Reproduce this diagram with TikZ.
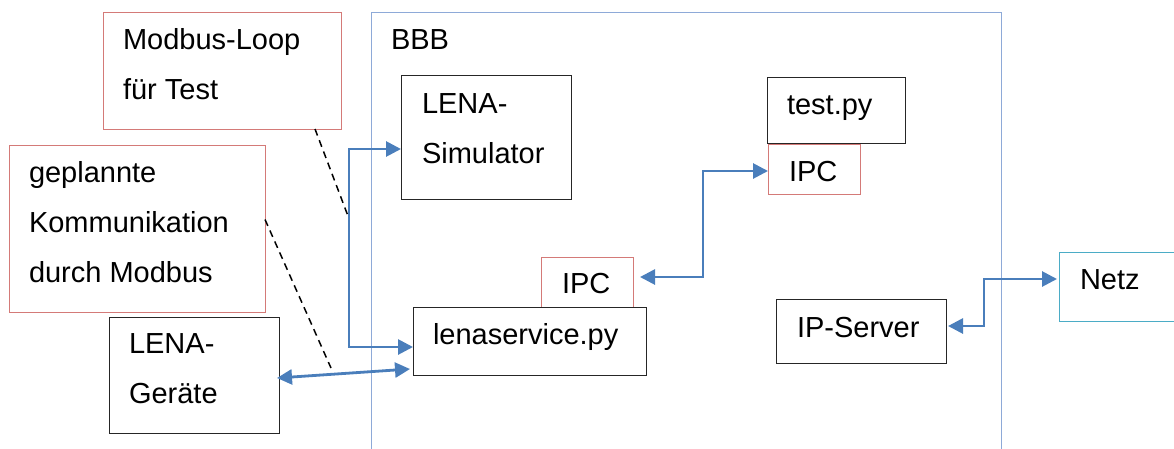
\documentclass[tikz,border=0pt]{standalone}
\usepackage{fontspec}
\setmainfont{Liberation Sans}
\usetikzlibrary{arrows.meta}
\definecolor{redb}{HTML}{D47A78}
\definecolor{blueb}{HTML}{8EAAD8}
\definecolor{tealb}{HTML}{4BACC6}
\definecolor{connc}{HTML}{4A7EBB}
\definecolor{boxk}{HTML}{262626}
\tikzset{
  box/.style={draw=boxk, line width=1pt, rectangle, anchor=north west, inner sep=0pt, outer sep=0pt},
  redbox/.style={box, draw=redb},
  lbl/.style={anchor=base west, inner sep=0pt, outer sep=0pt, font=\fontsize{29}{50}\selectfont},
  conn/.style={draw=connc, line width=2.8pt, {Triangle[length=15pt,width=15pt]}-{Triangle[length=15pt,width=15pt]}},
  dashline/.style={draw=black, line width=1.5pt, dash pattern=on 7pt off 5pt},
}
\newcommand\txt[1]{\parbox[t]{9cm}{#1}}
\begin{document}
\begin{tikzpicture}[x=1pt,y=-1pt]
\useasboundingbox (0,0) rectangle (1174,448);
\clip (0,0) rectangle (1174,448);
% BBB container
\node[box, draw=blueb, minimum width=630pt, minimum height=480pt] (bbb) at (371,12) {};
\node[lbl] (bbb-t) at (391,49) {\txt{BBB}};
% left boxes
\node[redbox, minimum width=238pt, minimum height=117pt] (mb) at (103,12) {};
\node[lbl] (mb-t) at (123,49) {\txt{Modbus-Loop\\für Test}};
\node[redbox, minimum width=256pt, minimum height=167pt] (gk) at (9,145) {};
\node[lbl] (gk-t) at (29,182) {\txt{geplannte\\Kommunikation\\durch Modbus}};
\node[box, minimum width=170pt, minimum height=116pt] (ger) at (109,317) {};
\node[lbl] (ger-t) at (129,353) {\txt{LENA-\\Geräte}};
% inside BBB
\node[box, minimum width=170pt, minimum height=124pt] (sim) at (401,75) {};
\node[lbl] (sim-t) at (422,113) {\txt{LENA-\\Simulator}};
\node[redbox, minimum width=92pt, minimum height=50pt] (ipc1) at (541,257) {};
\node[lbl] (ipc1-t) at (562,293) {\txt{IPC}};
\node[box, minimum width=233pt, minimum height=68pt] (ls) at (413,307) {};
\node[lbl] (ls-t) at (433,344) {\txt{lenaservice.py}};
\node[redbox, minimum width=92pt, minimum height=50pt] (ipc2) at (768,144) {};
\node[lbl] (ipc2-t) at (789,181) {\txt{IPC}};
\node[box, minimum width=138pt, minimum height=66pt] (tp) at (767,77) {};
\node[lbl] (tp-t) at (787,114) {\txt{test.py}};
\node[box, minimum width=170pt, minimum height=64pt] (ips) at (776,299) {};
\node[lbl] (ips-t) at (797,337) {\txt{IP-Server}};
% Netz
\node[box, draw=tealb, minimum width=140pt, minimum height=69pt] (netz) at (1059,252) {};
\node[lbl] (netz-t) at (1080,289) {\txt{Netz}};
% helper coordinates
\coordinate (cA) at (349,250);
\coordinate (cB) at (703,220);
\coordinate (cC) at (984,300);
\coordinate (d1) at (348,216);
\coordinate (d2) at (331,368);
% connectors
\draw[conn] ([yshift=-12pt]sim.west) -| (cA) |- ([yshift=-6pt]ls.west);
\draw[conn] ([xshift=-2pt,yshift=-3pt]ger.east) -- ([xshift=-3pt,yshift=-28pt]ls.west);
\draw[conn] ([xshift=7pt,yshift=5pt]ipc1.east) -| (cB) |- ([yshift=-2pt]ipc2.west);
\draw[conn] ([xshift=2pt,yshift=5pt]ips.east) -| (cC) |- ([xshift=-2pt,yshift=7.5pt]netz.west);
% dashed lines
\draw[dashline] ([xshift=93pt]mb.south) -- (d1);
\draw[dashline] ([yshift=9pt]gk.east) -- (d2);
\end{tikzpicture}
\end{document}
